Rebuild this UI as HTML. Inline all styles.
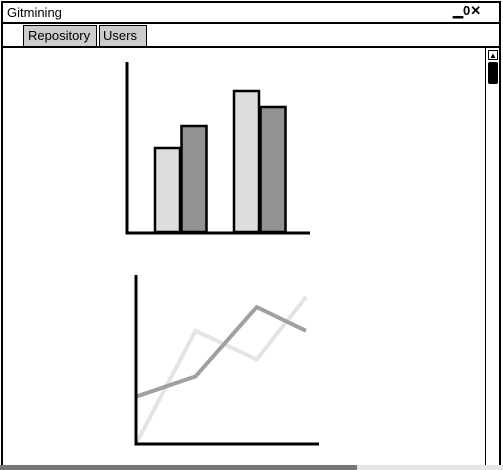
<!DOCTYPE html>
<html><head><meta charset="utf-8"><style>
body{margin:0;width:503px;height:470px;overflow:hidden;background:#fff;font-family:"Liberation Sans",sans-serif;position:relative}
.a{position:absolute;box-sizing:border-box}
</style></head><body>
<div class="a" style="left:1px;top:1px;width:500px;height:466px;border:2px solid #000;border-bottom:none"></div>
<div class="a" style="left:7px;top:5px;font-size:13px">Gitmining</div>
<div class="a" style="left:453px;top:3px;font-size:13px;font-weight:bold">▁0✕</div>
<div class="a" style="left:1px;top:22px;width:500px;height:2px;background:#000"></div>
<div class="a" style="left:23px;top:25px;width:74px;height:21px;background:#ccc;border:1px solid #000;border-bottom:none;font-size:13px;padding:2px 0 0 4px">Repository</div>
<div class="a" style="left:99px;top:25px;width:48px;height:21px;background:#ccc;border:1px solid #000;border-bottom:none;font-size:13px;padding:2px 0 0 3px">Users</div>
<div class="a" style="left:1px;top:46px;width:500px;height:2px;background:#000"></div>
<div class="a" style="left:485px;top:48px;width:15px;height:418px;border-left:1px solid #000"></div>
<div class="a" style="left:488px;top:50px;width:10px;height:10px;border:1px solid #000;font-size:8px;line-height:9px;text-align:center">▲</div>
<div class="a" style="left:488px;top:62px;width:10px;height:22px;background:#000;border-radius:2px"></div>
<div class="a" style="left:0;top:465px;width:503px;height:5px;background:#e6e6e6"></div>
<div class="a" style="left:0;top:465px;width:357px;height:5px;background:#777"></div>
<svg class="a" style="left:0;top:0" width="503" height="470">
<g id="bars"></g><g id="lines"></g>
</svg>
<script>
const barValues=[84,106,141,125];
const barColors=["#ddd","#929292","#ddd","#929292"];
const barSlots=[0,1,3,4];
const lineX=[0,35,71,100];
const darkSeries=[28,40,81,67];
const lightSeries=[0,67,50,87];
const NS="http://www.w3.org/2000/svg";
function mk(t,a,p){const e=document.createElementNS(NS,t);for(const k in a)e.setAttribute(k,a[k]);p.appendChild(e);return e;}
const bg=document.getElementById('bars');
const by=v=>232-v, bx=s=>155+s*26.5+(s>=3?-0.5:0);
barValues.forEach((v,i)=>{
 const r=mk('rect',{x:bx(barSlots[i]),y:by(v),width:25,height:v,fill:barColors[i],stroke:'#000','stroke-width':2.5},bg);
 
 
});
let ax=mk('path',{d:'M127 62 V233 H310',fill:'none',stroke:'#000','stroke-width':3},bg);


const lg=document.getElementById('lines');
const lx=v=>136+v*1.7, ly=v=>444-v*1.69;
function line(s,c,n){const p=mk('polyline',{points:s.map((v,i)=>lx(lineX[i])+','+ly(v)).join(' '),fill:'none',stroke:c,'stroke-width':4},lg);

}
line(lightSeries,'#e4e4e4','light-series');
line(darkSeries,'#a0a0a0','dark-series');
let ax2=mk('path',{d:'M136 275 V444 H319',fill:'none',stroke:'#000','stroke-width':3},lg);


</script>
</body></html>
